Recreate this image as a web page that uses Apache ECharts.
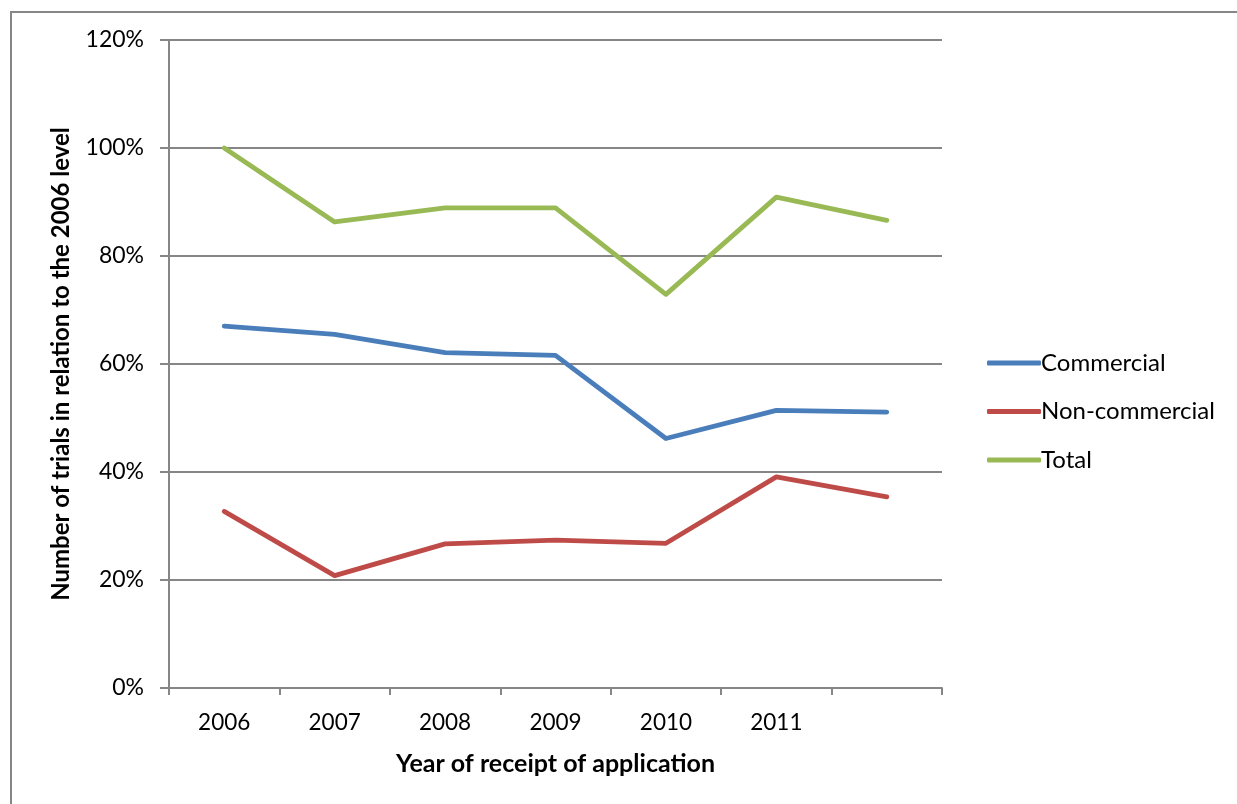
<!DOCTYPE html>
<html>
<head>
<meta charset="utf-8">
<script src="https://cdn.jsdelivr.net/npm/echarts@6/dist/echarts.min.js"></script>
<style>
html,body{margin:0;padding:0;background:#fff;}
#chart{width:1237px;height:804px;}
</style>
</head>
<body>
<div id="chart"></div>
<script>
var categories = ['2006', '2007', '2008', '2009', '2010', '2011', ''];
var commercial = [67.0, 65.5, 62.1, 61.6, 46.2, 51.4, 51.1];
var nonCommercial = [32.7, 20.8, 26.7, 27.4, 26.8, 39.1, 35.4];
var total = [100, 86.3, 88.9, 88.9, 72.9, 90.9, 86.6];
var seriesNames = ['Commercial', 'Non-commercial', 'Total'];
var yTicks = [0, 20, 40, 60, 80, 100, 120];

var FONT = 'Lato';
var AXIS = '#868686';
var chart = echarts.init(document.getElementById('chart'));
function line(name, data, color) {
  return {
    name: name, type: 'line', data: data, showSymbol: false, symbol: 'none',
    lineStyle: {color: color, width: 4.8, cap: 'round', join: 'round'},
    itemStyle: {color: color},
    animation: false
  };
}
chart.setOption({
  animation: false,
  textStyle: {fontFamily: FONT},
  graphic: [{
    type: 'rect', shape: {x: 11, y: 12, width: 1400, height: 1000},
    style: {fill: 'none', stroke: AXIS, lineWidth: 2}, silent: true, z: -1
  }],
  grid: {left: 169, right: 295, top: 40, bottom: 116, containLabel: false},
  legend: {
    orient: 'vertical', left: 982, top: 346,
    itemWidth: 54, itemHeight: 5, itemGap: 24.5,
    icon: 'roundRect',
    data: seriesNames,
    textStyle: {fontFamily: FONT, fontSize: 24, color: '#000', padding: [0, 0, 0, -5]}
  },
  xAxis: {
    type: 'category', data: categories, boundaryGap: true,
    name: 'Year of receipt of application', nameLocation: 'middle', nameGap: 63,
    nameTextStyle: {fontFamily: FONT, fontSize: 25, fontWeight: 'bold', color: '#000'},
    axisLine: {lineStyle: {color: AXIS, width: 2}},
    axisTick: {show: true, length: 7, lineStyle: {color: AXIS, width: 2}, interval: 0},
    axisLabel: {fontFamily: FONT, fontSize: 22.5, color: '#000', margin: 23, interval: 0}
  },
  yAxis: {
    type: 'value', min: yTicks[0], max: yTicks[yTicks.length - 1], interval: 20,
    name: 'Number of trials in relation to the 2006 level', nameLocation: 'middle', nameGap: 96,
    nameTextStyle: {fontFamily: FONT, fontSize: 24, fontWeight: 'bold', color: '#000'},
    axisLine: {show: true, lineStyle: {color: AXIS, width: 2}},
    axisTick: {show: true, length: 9, lineStyle: {color: AXIS, width: 2}},
    splitLine: {show: true, lineStyle: {color: AXIS, width: 2}},
    axisLabel: {fontFamily: FONT, fontSize: 23, color: '#000', margin: 25, formatter: '{value}%'}
  },
  series: [
    line(seriesNames[0], commercial, '#4A7EBB'),
    line(seriesNames[1], nonCommercial, '#BE4B48'),
    line(seriesNames[2], total, '#98B954')
  ]
});
</script>
</body>
</html>
